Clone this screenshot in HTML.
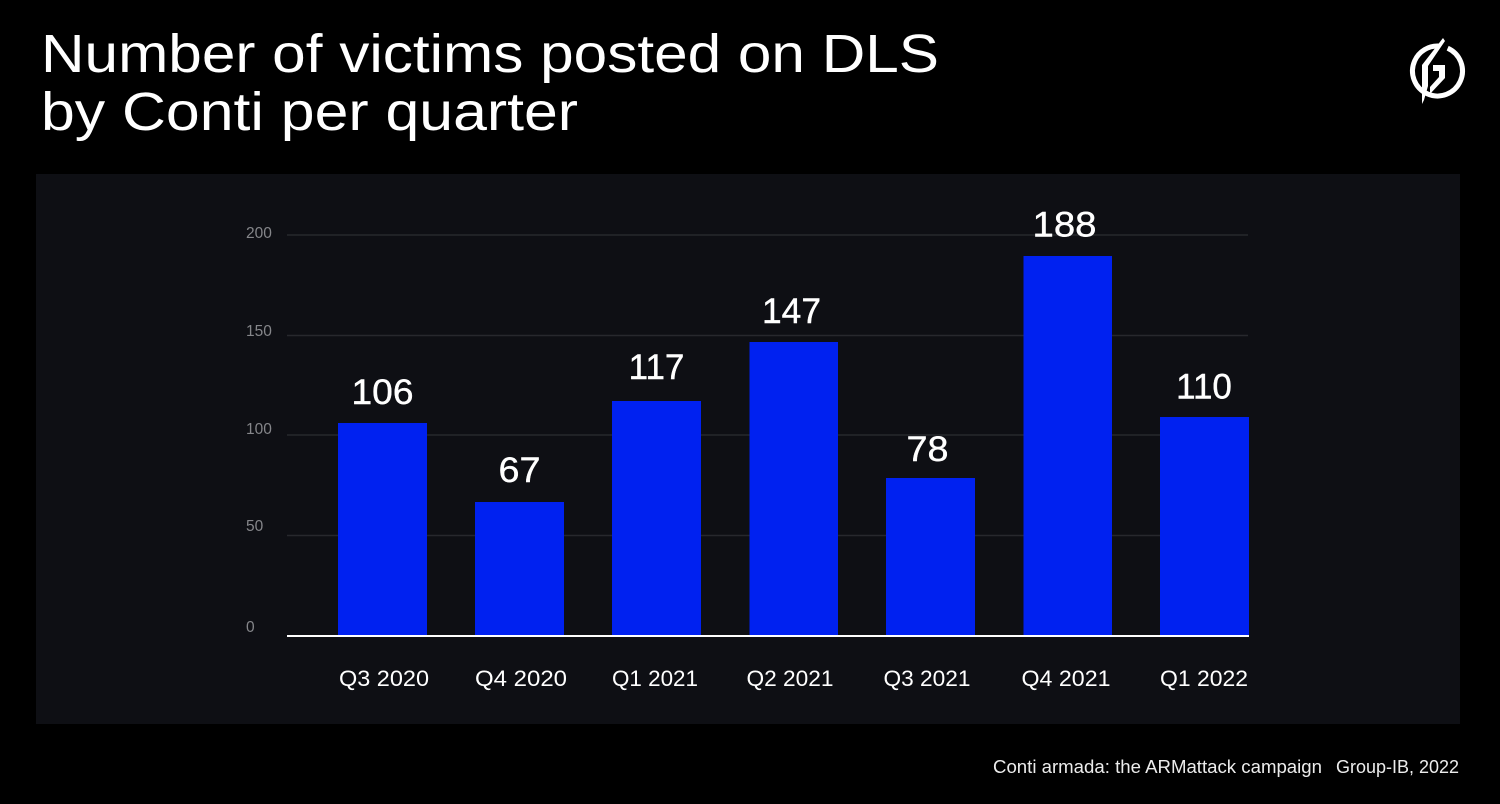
<!DOCTYPE html>
<html>
<head>
<meta charset="utf-8">
<style>
html,body{margin:0;padding:0;background:#000;}
body{width:1500px;height:804px;overflow:hidden;}
svg{display:block;}
text{font-family:"Liberation Sans",sans-serif;}
</style>
</head>
<body>
<svg width="1500" height="804" viewBox="0 0 1500 804" xmlns="http://www.w3.org/2000/svg">
  <rect x="0" y="0" width="1500" height="804" fill="#000"/>
  <!-- Title -->
  <text x="41" y="72" font-size="54" fill="#fff" textLength="898" lengthAdjust="spacingAndGlyphs">Number of victims posted on DLS</text>
  <text x="41" y="130" font-size="54" fill="#fff" textLength="537" lengthAdjust="spacingAndGlyphs">by Conti per quarter</text>

  <!-- Logo -->
  <g transform="translate(1400,38)" fill="#fff">
    <circle cx="37.5" cy="33" r="25" fill="none" stroke="#fff" stroke-width="5" stroke-dasharray="148 9" transform="rotate(-66 37.5 33)"/>
    <polygon points="43,0 45,3 28,28 28,48 24,62 22,66 22,27"/>
    <polygon points="33,27 45,27 45,40 30,56 30,49 39,39 39,33 33,33"/>
  </g>

  <!-- Panel -->
  <rect x="36" y="174" width="1424" height="550" fill="#0e0f14"/>

  <!-- Gridlines -->
  <g stroke="#27282d" stroke-width="1.5">
    <line x1="287" y1="235" x2="1248" y2="235"/>
    <line x1="287" y1="335.5" x2="1248" y2="335.5"/>
    <line x1="287" y1="435" x2="1248" y2="435"/>
    <line x1="287" y1="535.5" x2="1248" y2="535.5"/>
  </g>

  <!-- Y tick labels -->
  <g font-size="15.5" fill="#85868a">
    <text x="246" y="238">200</text>
    <text x="246" y="336">150</text>
    <text x="246" y="434">100</text>
    <text x="246" y="531">50</text>
    <text x="246" y="632">0</text>
  </g>

  <!-- Bars -->
  <g fill="#0021f0">
    <rect x="338" y="423" width="89" height="213"/>
    <rect x="475" y="502" width="89" height="134"/>
    <rect x="612" y="401" width="89" height="235"/>
    <rect x="749.5" y="342" width="88.5" height="294"/>
    <rect x="886" y="478" width="89" height="158"/>
    <rect x="1023.5" y="256" width="88.5" height="380"/>
    <rect x="1160" y="417" width="89" height="219"/>
  </g>

  <!-- Axis baseline -->
  <rect x="287" y="635" width="962" height="2" fill="#fff"/>

  <!-- Value labels -->
  <g font-size="35" fill="#fff" text-anchor="middle" stroke="#fff" stroke-width="0.4">
    <text x="382.5" y="404" textLength="62" lengthAdjust="spacingAndGlyphs">106</text>
    <text x="519.5" y="482" textLength="42" lengthAdjust="spacingAndGlyphs">67</text>
    <text x="656.5" y="379">117</text>
    <text x="791.5" y="323" textLength="59" lengthAdjust="spacingAndGlyphs">147</text>
    <text x="927.5" y="461" textLength="42" lengthAdjust="spacingAndGlyphs">78</text>
    <text x="1064.5" y="236.5" textLength="64" lengthAdjust="spacingAndGlyphs">188</text>
    <text x="1204" y="398.5">110</text>
  </g>

  <!-- X labels -->
  <g font-size="22" fill="#fff" text-anchor="middle">
    <text x="384" y="686" textLength="90" lengthAdjust="spacingAndGlyphs">Q3 2020</text>
    <text x="521" y="686" textLength="92" lengthAdjust="spacingAndGlyphs">Q4 2020</text>
    <text x="655" y="686" textLength="86" lengthAdjust="spacingAndGlyphs">Q1 2021</text>
    <text x="790" y="686" textLength="87" lengthAdjust="spacingAndGlyphs">Q2 2021</text>
    <text x="927" y="686" textLength="87" lengthAdjust="spacingAndGlyphs">Q3 2021</text>
    <text x="1066" y="686" textLength="89" lengthAdjust="spacingAndGlyphs">Q4 2021</text>
    <text x="1204" y="686" textLength="88" lengthAdjust="spacingAndGlyphs">Q1 2022</text>
  </g>

  <!-- Footnote -->
  <g font-size="18.5" fill="#ececec">
    <text x="993" y="773" textLength="329" lengthAdjust="spacingAndGlyphs">Conti armada: the ARMattack campaign</text>
    <text x="1336" y="773" textLength="123" lengthAdjust="spacingAndGlyphs">Group-IB, 2022</text>
  </g>
</svg>
</body>
</html>
